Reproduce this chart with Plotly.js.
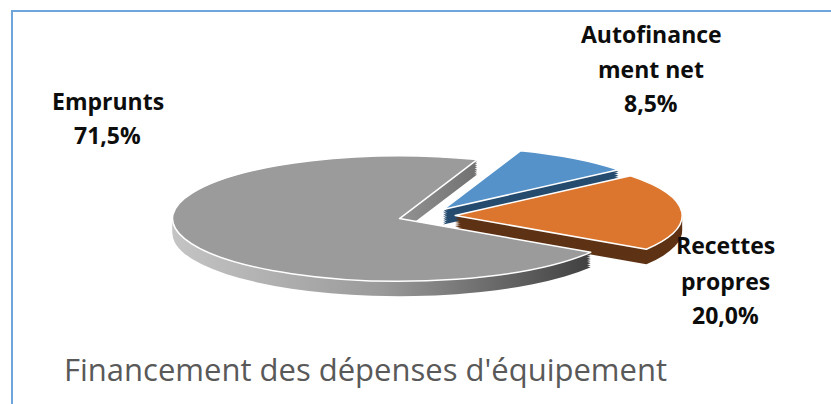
<!DOCTYPE html>
<html><head><meta charset="utf-8">
<script src="https://cdn.plot.ly/plotly-3.0.1.min.js"></script>
<style>
html,body{margin:0;padding:0;background:#fff;}
#wrap{position:relative;width:831px;height:404px;overflow:hidden;}
#chart{width:831px;height:404px;}
#frame{position:absolute;left:11px;top:10px;width:840px;height:420px;border-top:2px solid #6ea6dc;border-left:2px solid #6ea6dc;pointer-events:none;}
</style></head><body>
<div id="wrap"><div id="chart"></div><div id="frame"></div></div>
<script>
// ---- data ----
const categories = ['Emprunts', 'Autofinancement net', 'Recettes propres'];
const labelLines = [['Emprunts'], ['Autofinance', 'ment net'], ['Recettes', 'propres']];
const shares = [71.5, 8.5, 20.0];
const chartTitle = "Financement des dépenses d'équipement";

// ---- styles ----
const topColors = ['#9b9b9b', '#5592c9', '#dc762e'];
const sideColors = ['#808080', '#254b6e', '#5e3214'];
const explode = 0.126;
const depthSteps = [1, 0.875, 0.75, 0.625, 0.5, 0.375, 0.25, 0.125];
const view = {cx: 426.6, cy: 216, a: 227, b: 62.7, depth: 15};
// label anchor: center x (px) and y of each line (px)
const labelPos = [
  {x: 108, ys: [101, 135]},
  {x: 651, ys: [34, 69, 103]},
  {x: 725, ys: [245, 281, 315]}
];

function fmt(v) { return v.toFixed(1).replace('.', ',') + '%'; }

function pieTrace(colors, lw) {
  return {
    type: 'pie', labels: categories, values: shares, sort: false,
    direction: 'clockwise', rotation: 122.6,
    pull: categories.map(() => explode),
    marker: {colors: colors, line: {color: '#ffffff', width: lw}},
    textinfo: 'none', textposition: 'none', hoverinfo: 'label+percent',
    showlegend: false, domain: {x: [0, 1], y: [0, 1]}
  };
}

const data = depthSteps.map(() => pieTrace(sideColors, 0)).concat([pieTrace(topColors, 1.5)]);

const W = 831, H = 404;
const annotations = [];
categories.forEach((c, i) => {
  const lines = labelLines[i].concat([fmt(shares[i])]);
  lines.forEach((t, k) => {
    annotations.push({
      xref: 'paper', yref: 'paper', x: labelPos[i].x / W, y: 1 - labelPos[i].ys[k] / H,
      xanchor: 'center', yanchor: 'middle', showarrow: false, text: '<b>' + t + '</b>',
      font: {family: 'Open Sans, sans-serif', size: 23, color: '#0d0d0d'}
    });
  });
});

const layout = {
  width: W, height: H, margin: {l: 0, r: 0, t: 0, b: 0},
  paper_bgcolor: '#ffffff', showlegend: false,
  title: {text: chartTitle, x: 64 / W, xanchor: 'left', xref: 'paper', y: 1 - 370 / H, yanchor: 'middle', yref: 'paper',
    font: {family: 'Open Sans, sans-serif', size: 31, color: '#595959'}},
  annotations: annotations
};

Plotly.newPlot('chart', data, layout, {staticPlot: true}).then(gd => {
  const svg = gd.querySelector('svg.main-svg');
  const defs = svg.querySelector('defs');
  const ns = 'http://www.w3.org/2000/svg';
  const grad = document.createElementNS(ns, 'linearGradient');
  grad.setAttribute('id', 'graySide');
  grad.setAttribute('x1', '0'); grad.setAttribute('x2', '1'); grad.setAttribute('y1', '0'); grad.setAttribute('y2', '0');
  [['0', '#c4c4c4'], ['0.5', '#9a9a9a'], ['1', '#404040']].forEach(s => {
    const st = document.createElementNS(ns, 'stop');
    st.setAttribute('offset', s[0]); st.setAttribute('stop-color', s[1]);
    grad.appendChild(st);
  });
  defs.appendChild(grad);

  const groups = gd.querySelectorAll('.pielayer g.trace');
  groups.forEach((g, i) => {
    const cd0 = gd.calcdata[i][0];
    const sx = view.a / cd0.r, sy = view.b / cd0.r;
    const dy = i < depthSteps.length ? view.depth * depthSteps[i] : 0;
    const prev = g.getAttribute('transform') || '';
    g.setAttribute('transform', `translate(${view.cx},${view.cy + dy}) scale(${sx},${sy}) translate(${-cd0.cx},${-cd0.cy}) ${prev}`);
    g.querySelectorAll('path').forEach(p => { p.style.vectorEffect = 'non-scaling-stroke'; });
    if (i < depthSteps.length) {
      const first = g.querySelectorAll('g.slice')[0];
      if (first) first.querySelectorAll('path.surface').forEach(p => { p.style.fill = 'url(#graySide)'; });
    }
  });
});
</script>
</body></html>
